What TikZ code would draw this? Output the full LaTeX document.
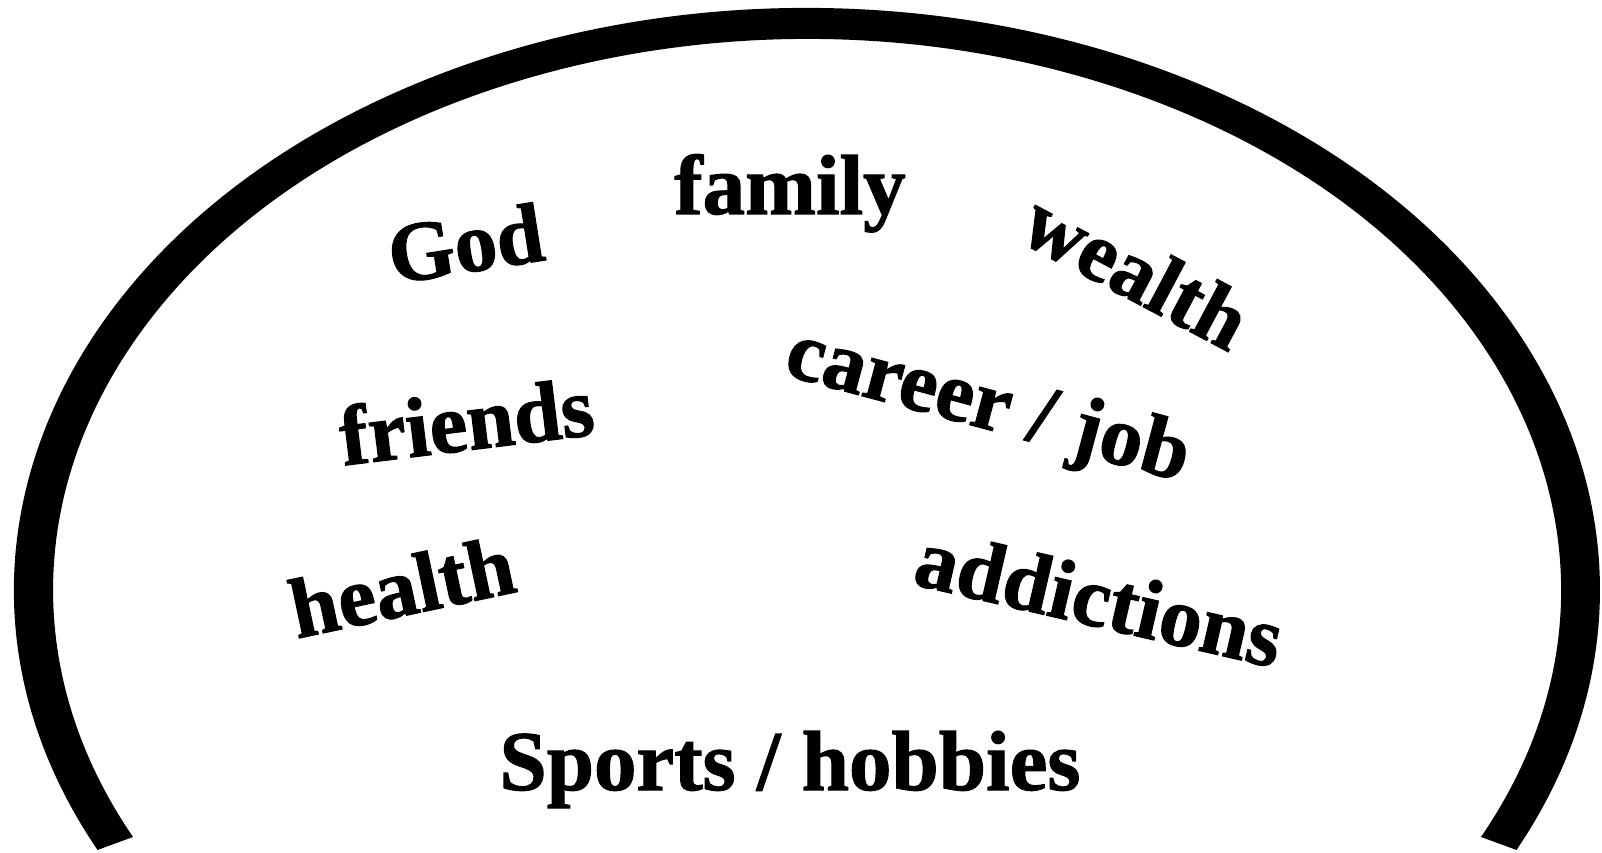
\documentclass[tikz,border=0pt]{standalone}
\usepackage{fontspec}
\setmainfont{Liberation Serif}[BoldFeatures={FakeBold=1.3}]
\begin{document}
\begin{tikzpicture}[x=1pt,y=1pt,
  word/.style={inner sep=0pt, anchor=base, font=\bfseries\fontsize{85}{85}\selectfont}]
\useasboundingbox (0,0) rectangle (1602,852);
\coordinate (C) at (807,262);
\fill[black] (C) ++(206.53:793 and 582)
  arc[start angle=206.53, end angle=-26.53, x radius=793, y radius=582]
  -- ([shift={(-26.63:754 and 551)}]C)
  arc[start angle=-26.63, end angle=206.63, x radius=754, y radius=551]
  -- cycle;
\node[word, rotate=9]   (god)     at (470,580) {God};
\node[word]             (family)  at (790,638) {family};
\node[word, rotate=-28] (wealth)  at (1123,556) {wealth};
\node[word, rotate=-15] (career)  at (982,424) {career / job};
\node[word, rotate=7]   (friends) at (470,402) {friends};
\node[word, rotate=12]  (health)  at (408,237) {health};
\node[word, rotate=-13] (addict)  at (1093,226) {addictions};
\node[word]             (sports)  at (790,62) {Sports / hobbies};
\end{tikzpicture}
\end{document}
